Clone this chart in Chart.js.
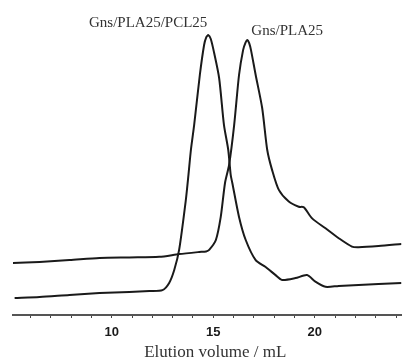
<!DOCTYPE html>
<html>
<head>
<meta charset="utf-8">
<script src="https://cdn.jsdelivr.net/npm/chart.js@4/dist/chart.umd.min.js"></script>
<style>
  html, body { margin: 0; padding: 0; background: #fff; }
  #wrap { width: 403px; height: 361px; }
</style>
</head>
<body>
<div id="wrap"><canvas id="c" width="403" height="361"></canvas></div>
<script>
// Elution volume (mL) and detector response (arbitrary units)
const volA = [5.22, 6.45, 7.92, 9.40, 10.87, 11.86, 12.50, 12.83, 13.08, 13.32, 13.65, 13.78, 13.90, 14.06, 14.34, 14.55, 14.66, 14.76, 14.88, 15.04, 15.29, 15.53, 15.74, 15.86, 15.94, 16.27, 16.60, 17.09, 17.58, 18.07, 18.39, 19.05, 19.62, 20.03, 20.53, 21.18, 22.16, 23.14, 24.27];
const sigA = [5.7, 6.0, 6.7, 7.3, 7.7, 8.0, 8.3, 10.7, 15.0, 21.7, 38.3, 46.7, 55.0, 63.3, 80.0, 90.0, 92.6, 93.3, 92.0, 87.5, 79.0, 63.3, 55.0, 46.7, 44.0, 32.7, 25.0, 18.3, 16.0, 13.3, 11.7, 12.3, 13.3, 11.1, 9.4, 9.7, 10.0, 10.3, 10.7];

const volB = [5.08, 6.45, 7.92, 9.40, 10.87, 12.34, 13.32, 14.31, 14.65, 14.80, 15.13, 15.37, 15.58, 15.78, 16.03, 16.27, 16.47, 16.59, 16.68, 16.77, 16.86, 17.09, 17.41, 17.66, 17.90, 18.23, 18.72, 19.21, 19.46, 19.87, 20.53, 21.18, 21.83, 22.16, 23.14, 24.27];
const sigB = [17.3, 17.7, 18.3, 19.0, 19.2, 19.4, 20.3, 21.0, 21.2, 21.7, 25.0, 32.7, 44.0, 50.0, 63.3, 80.0, 88.3, 90.8, 91.7, 90.6, 88.3, 80.0, 69.0, 55.0, 48.3, 41.7, 37.8, 36.1, 35.9, 32.2, 28.9, 25.6, 22.8, 22.6, 23.0, 23.7];

const seriesNames = ["Gns/PLA25/PCL25", "Gns/PLA25"];
const xTickLabels = [10, 15, 20];
const xTitle = "Elution volume / mL";

function pts(xs, ys) { return xs.map((x, i) => ({ x: x, y: ys[i] })); }

const textLayer = {
  id: 'textLayer',
  afterDatasetsDraw(chart) {
    const ctx = chart.ctx;
    const xs = chart.scales.x, ys = chart.scales.y;
    ctx.save();
    ctx.fillStyle = '#333';
    ctx.font = '15px "Liberation Serif", "Times New Roman", serif';
    ctx.textBaseline = 'middle';
    chart.data.datasets.forEach((ds, i) => {
      let best = ds.data[0];
      ds.data.forEach(p => { if (p.y > best.y) best = p; });
      const px = xs.getPixelForValue(best.x), py = ys.getPixelForValue(best.y);
      if (i === 0) { ctx.textAlign = 'right'; ctx.fillText(ds.label, px - 1, py - 12); }
      else { ctx.textAlign = 'left'; ctx.fillText(ds.label, px + 4, py - 9); }
    });
    // axis title
    ctx.font = '17px "Liberation Serif", "Times New Roman", serif';
    ctx.textAlign = 'center';
    ctx.fillText(xTitle, (xs.left + xs.right) / 2 + 8, xs.bottom - 8);
    ctx.restore();
  }
};

new Chart(document.getElementById('c'), {
  type: 'line',
  data: {
    datasets: [
      { label: seriesNames[0], data: pts(volA, sigA), borderColor: '#1a1a1a', borderWidth: 2, pointRadius: 0, fill: false, tension: 0.25 },
      { label: seriesNames[1], data: pts(volB, sigB), borderColor: '#1a1a1a', borderWidth: 2, pointRadius: 0, fill: false, tension: 0.25 }
    ]
  },
  options: {
    responsive: false,
    animation: false,
    layout: { padding: { left: 13, right: 0, top: 15, bottom: 0 } },
    plugins: { legend: { display: false }, tooltip: { enabled: false } },
    scales: {
      x: {
        type: 'linear',
        min: 5.14, max: 24.27,
        afterFit(s) { s.height = 46; },
        border: { display: true, color: '#555', width: 2 },
        grid: { display: true, drawOnChartArea: false, drawTicks: true, tickLength: 3, color: '#444', lineWidth: 1 },
        ticks: {
          stepSize: 1, includeBounds: false, autoSkip: false, maxRotation: 0,
          padding: 7, color: '#1a1a1a',
          font: { family: '"Liberation Sans Narrow", "Liberation Sans", Arial, sans-serif', size: 13, weight: 'bold' },
          callback: v => xTickLabels.includes(v) ? String(v) : ''
        },
        title: { display: false, text: xTitle }
      },
      y: { type: 'linear', display: false, min: 0, max: 100 }
    }
  },
  plugins: [textLayer]
});
</script>
</body>
</html>
